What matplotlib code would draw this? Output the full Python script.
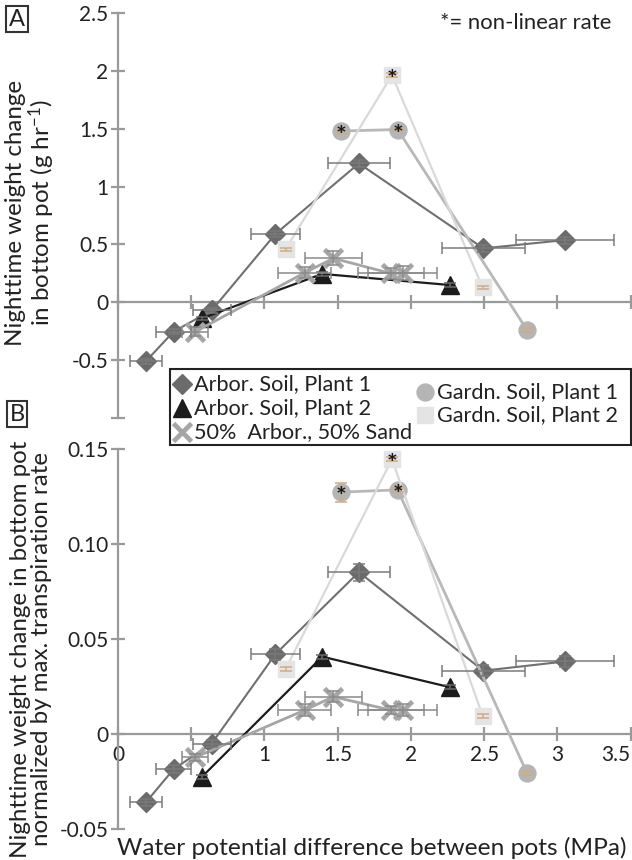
import matplotlib
matplotlib.use("Agg")
import matplotlib.pyplot as plt
from matplotlib.lines import Line2D
from matplotlib.patches import Rectangle

plt.rcParams['font.family'] = ['Lato', 'DejaVu Sans']
plt.rcParams['mathtext.fontset'] = 'custom'
plt.rcParams['mathtext.rm'] = 'Lato'
plt.rcParams['mathtext.it'] = 'Lato:italic'
plt.rcParams['mathtext.bf'] = 'Lato:bold'

# ---------------- data ----------------
series_names = ["Arbor. Soil, Plant 1", "Arbor. Soil, Plant 2", "50%  Arbor., 50% Sand",
                "Gardn. Soil, Plant 1", "Gardn. Soil, Plant 2"]

arbor1_x = [0.19, 0.38, 0.64, 1.075, 1.645, 2.495, 3.055]
arbor1_xerr = [0.11, 0.12, 0.13, 0.165, 0.21, 0.285, 0.335]
arbor1_a = [-0.51, -0.253, -0.07, 0.59, 1.20, 0.466, 0.538]
arbor1_a_err = [0.02, 0.02, 0.02, 0.03, 0.03, 0.03, 0.03]
arbor1_b = [-0.036, -0.0185, -0.005, 0.042, 0.0852, 0.0333, 0.0382]
arbor1_b_err = [0.002, 0.002, 0.002, 0.003, 0.0045, 0.003, 0.003]

arbor2_x = [0.574, 1.395, 2.268]
arbor2_xerr = None
arbor2_a = [-0.138, 0.245, 0.149]
arbor2_a_err = [0.015, 0.015, 0.015]
arbor2_b = [-0.0225, 0.0407, 0.0246]
arbor2_b_err = [0.001, 0.001, 0.001]

sand_x = [0.528, 1.276, 1.471, 1.862, 1.943]
sand_xerr = [0.09, 0.18, 0.197, 0.225, 0.235]
sand_a = [-0.254, 0.256, 0.38, 0.25, 0.25]
sand_a_err = [0.04, 0.05, 0.06, 0.05, 0.06]
sand_b = [-0.0123, 0.0126, 0.0196, 0.0126, 0.0126]
sand_b_err = [0.002, 0.003, 0.003, 0.002, 0.003]

gard1_x = [1.525, 1.91, 2.793]
gard1_xerr = None
gard1_a = [1.48, 1.493, -0.239]
gard1_a_err = [0.03, 0.015, 0.015]
gard1_b = [0.1273, 0.1285, -0.0205]
gard1_b_err = [0.005, 0.001, 0.001]
gard1_star = [True, True, False]

gard2_x = [1.144, 1.871, 2.49]
gard2_xerr = None
gard2_a = [0.458, 1.963, 0.128]
gard2_a_err = [0.015, 0.015, 0.015]
gard2_b = [0.0341, 0.1446, 0.0096]
gard2_b_err = [0.001, 0.001, 0.001]
gard2_star = [False, True, False]

a_yticks = [-1, -0.5, 0, 0.5, 1, 1.5, 2, 2.5]
a_yticklabels = ["", "-0.5", "0", "0.5", "1", "1.5", "2", "2.5"]
b_yticks = [-0.05, 0, 0.05, 0.10, 0.15]
b_yticklabels = ["-0.05", "0", "0.05", "0.10", "0.15"]
xticks = [0, 0.5, 1, 1.5, 2, 2.5, 3, 3.5]
b_xticklabels = ["0", "", "1", "1.5", "2", "2.5", "3", "3.5"]

# ---------------- styles ----------------
styles = [
    dict(marker='D', ms=9.8, mfc='#6b6b6b', mec='#6b6b6b', color='#707070', lw=1.5, mew=1),
    dict(marker='^', ms=13, mfc='#1c1c1c', mec='#1c1c1c', color='#1c1c1c', lw=1.6, mew=1),
    dict(marker='x', ms=12.5, mfc='#a6a6a6', mec='#a6a6a6', color='#a6a6a6', lw=2.0, mew=3.4),
    dict(marker='o', ms=12.2, mfc='#b5b5b5', mec='#b5b5b5', color='#b8b8b8', lw=2.0, mew=1),
    dict(marker='s', ms=11.3, mfc='#e4e4e4', mec='#e4e4e4', color='#d9d9d9', lw=1.6, mew=1),
]
err_colors = ['#7a7a7a', '#6a6a6a', '#8a8a8a', '#d2aa80', '#d2aa80']
AXC = '#9a9a9a'
TXT = '#222222'

W, H = 632, 860
fig = plt.figure(figsize=(W / 100, H / 100), dpi=100)

def fx(px):
    return px / W

def fy(py):
    return 1 - py / H

axA = fig.add_axes([fx(118), fy(418), fx(630.5) - fx(118), fy(13) - fy(418)])
axB = fig.add_axes([fx(118), fy(829), fx(630.5) - fx(118), fy(449) - fy(829)])

def draw(ax, data, ylim, yticks, yticklabels, xticklabels):
    for (x, xe, y, ye, star), st, ec in zip(data, styles, err_colors):
        ax.plot(x, y, linestyle='-', zorder=3, clip_on=False, **st)
        ax.errorbar(x, y, xerr=xe, yerr=ye, fmt='none', ecolor=ec, elinewidth=1.1,
                    capsize=4.5, capthick=1.1, zorder=4, clip_on=False)
        if star is not None:
            for xi, yi, s in zip(x, y, star):
                if s:
                    ax.annotate('*', (xi, yi), xytext=(0, -4), textcoords='offset points',
                                ha='center', va='center', fontsize=18, color='#1a1a1a',
                                fontweight='bold', zorder=6)
    ax.set_xlim(0, 3.5)
    ax.set_ylim(*ylim)
    for s in ['top', 'right']:
        ax.spines[s].set_visible(False)
    ax.spines['bottom'].set_position(('data', 0))
    for s in ['left', 'bottom']:
        ax.spines[s].set_color(AXC)
        ax.spines[s].set_linewidth(1.6)
    ax.set_yticks(yticks)
    ax.set_yticklabels(yticklabels)
    ax.set_xticks(xticks)
    ax.set_xticklabels(xticklabels)
    ax.tick_params(axis='both', direction='inout', length=10, width=1.6, color=AXC,
                   labelsize=15, labelcolor=TXT)
    ax.tick_params(axis='y', pad=2)
    ax.tick_params(axis='x', pad=3)
    ax.patch.set_alpha(0)

dataA = [
    (arbor1_x, arbor1_xerr, arbor1_a, arbor1_a_err, None),
    (arbor2_x, arbor2_xerr, arbor2_a, arbor2_a_err, None),
    (sand_x, sand_xerr, sand_a, sand_a_err, None),
    (gard1_x, gard1_xerr, gard1_a, gard1_a_err, gard1_star),
    (gard2_x, gard2_xerr, gard2_a, gard2_a_err, gard2_star),
]
dataB = [
    (arbor1_x, arbor1_xerr, arbor1_b, arbor1_b_err, None),
    (arbor2_x, arbor2_xerr, arbor2_b, arbor2_b_err, None),
    (sand_x, sand_xerr, sand_b, sand_b_err, None),
    (gard1_x, gard1_xerr, gard1_b, gard1_b_err, gard1_star),
    (gard2_x, gard2_xerr, gard2_b, gard2_b_err, gard2_star),
]
draw(axA, dataA, (-1, 2.5), a_yticks, a_yticklabels, [""] * len(xticks))
draw(axB, dataB, (-0.05, 0.15), b_yticks, b_yticklabels, b_xticklabels)
# last x label kept inside the figure
lastlab = axB.get_xticklabels()[-1]
lastlab.set_horizontalalignment('right')

# axis labels
ylabA = fig.text(fx(31), fy(213), "Nighttime weight change\nin bottom pot (g hr$^{-1}$)", rotation=90,
                 ha='center', va='center', multialignment='center', fontsize=16, color=TXT,
                 linespacing=1.05)
ylabB = fig.text(fx(31), fy(649), "Nighttime weight change in bottom pot\nnormalized by max. transpiration rate",
                 rotation=90, ha='center', va='center', multialignment='center', fontsize=16,
                 color=TXT, linespacing=1.05)
xlab = fig.text(fx(372), fy(848), "Water potential difference between pots (MPa)", ha='center',
                va='center', fontsize=16, color=TXT)
note = fig.text(fx(611), fy(23), "*= non-linear rate", ha='right', va='center', fontsize=14,
                color=TXT)

# panel letters
for letter, (px, py) in [("A", (17, 19)), ("B", (17, 414))]:
    fig.text(fx(px), fy(py), letter, ha='center', va='center', fontsize=17, color=TXT,
             bbox=dict(boxstyle='square,pad=0.12', fc='white', ec='#333333', lw=1.5))

# legend
fig.add_artist(Rectangle((fx(169.5), fy(445)), fx(631) - fx(169.5), fy(369.5) - fy(445),
                         transform=fig.transFigure, fill=True, fc='white', ec='#222222',
                         lw=1.5, zorder=10))
leg_pos = [(182, 384), (182, 408), (182, 432), (425, 392), (425, 415)]
leg_texts = []
for name, st, (mx, my) in zip(series_names, styles, leg_pos):
    fig.add_artist(Line2D([fx(mx)], [fy(my)], transform=fig.transFigure, linestyle='none',
                          marker=st['marker'], ms=st['ms'], mfc=st['mfc'], mec=st['mec'],
                          mew=st['mew'], zorder=11))
    leg_texts.append(fig.text(fx(mx + 12), fy(my), name, ha='left', va='center', fontsize=13,
                              color=TXT, zorder=11))

# size the texts to the lengths they have in the reference
fig.canvas.draw()
r = fig.canvas.get_renderer()

def fit(t, target, use_height=False):
    bb = t.get_window_extent(r)
    cur = bb.height if use_height else bb.width
    t.set_fontsize(t.get_fontsize() * target / cur)

fit(ylabA, 267, True)
fit(ylabB, 420, True)
fit(xlab, 510)
fit(note, 172)
bb0 = leg_texts[0].get_window_extent(r)
scale = 177 / bb0.width
for t in leg_texts:
    t.set_fontsize(t.get_fontsize() * scale)

fig.savefig("out.png", dpi=100, facecolor='white')
